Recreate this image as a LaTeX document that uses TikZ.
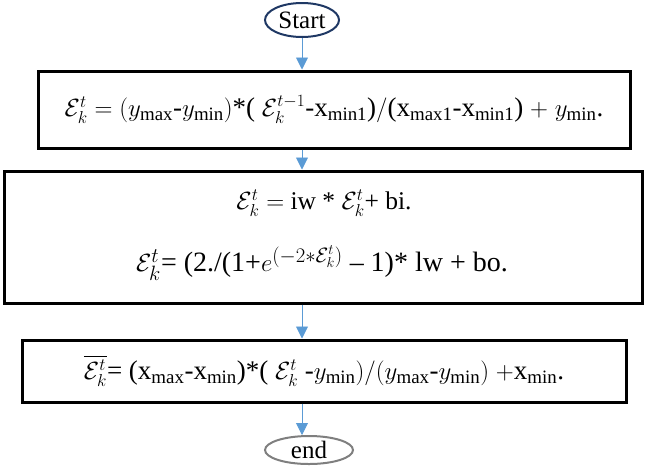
\documentclass[tikz,border=0pt]{standalone}
\usepackage{amsmath}
\usepackage{fontspec}
\setmainfont{Liberation Serif}
\usetikzlibrary{arrows.meta,shapes.geometric}
\definecolor{arrowblue}{HTML}{5B9BD5}
\definecolor{startnavy}{HTML}{1F3864}
\definecolor{endgray}{HTML}{7F7F7F}
\newcommand{\Ek}{\mathcal{E}_k^t}
\newcommand{\sbt}[1]{_{\text{#1}}}
\begin{document}
\begin{tikzpicture}[x=1pt,y=-1pt,
  eqfont/.style={font=\fontsize{27}{32}\selectfont},
  midfont/.style={font=\fontsize{25.5}{31}\selectfont},
  bigfont/.style={font=\fontsize{28}{33}\selectfont},
  procbox/.style={draw=black,line width=3pt,inner sep=0pt,eqfont},
  term/.style={ellipse,line width=2pt,inner sep=0pt,font=\fontsize{25}{30}\selectfont},
  flow/.style={draw=arrowblue,line width=0.9pt,-{Triangle[length=12pt,width=12pt]}}]
\useasboundingbox (0,0) rectangle (647,475);
\node[term,draw=startnavy,minimum width=74pt,minimum height=34pt] (start) at (302,20) {Start};
\node[procbox,minimum width=592pt,minimum height=77pt] (b1) at (334,109.5)
  {$\Ek = (y\sbt{max}$-$y\sbt{min})$*( $\mathcal{E}_k^{t-1}$-x\textsubscript{min1})$/$(x\textsubscript{max1}-x\textsubscript{min1}) $+\ y\sbt{min}$.};
\node[procbox,minimum width=638pt,minimum height=132pt] (b2) at (323,237) {};
\node[midfont] (l1) at (324,203) {$\Ek = $ iw * $\Ek$+ bi.};
\node[bigfont] (l2) at (322,263) {$\Ek$= (2./(1+$e^{(-2*\Ek)}$ -- 1)* lw + bo.};
\node[procbox,minimum width=604pt,minimum height=62pt] (b3) at (324,371)
  {$\overline{\Ek}$= (x\textsubscript{max}-x\textsubscript{min})*( $\Ek$ -$y\sbt{min})/(y\sbt{max}$-$y\sbt{min})$ $+$x\textsubscript{min}.};
\node[term,draw=endgray,minimum width=88pt,minimum height=28pt] (end) at (309,450) {end};
\draw[flow] (start.south) -- (start.south |- b1.north);
\draw[flow] (b1.south -| start.south) -- (b2.north -| start.south);
\draw[flow] (b2.south -| start.south) -- (b3.north -| start.south);
\draw[flow] (b3.south -| start.south) -- (end.north -| start.south);
\end{tikzpicture}
\end{document}
